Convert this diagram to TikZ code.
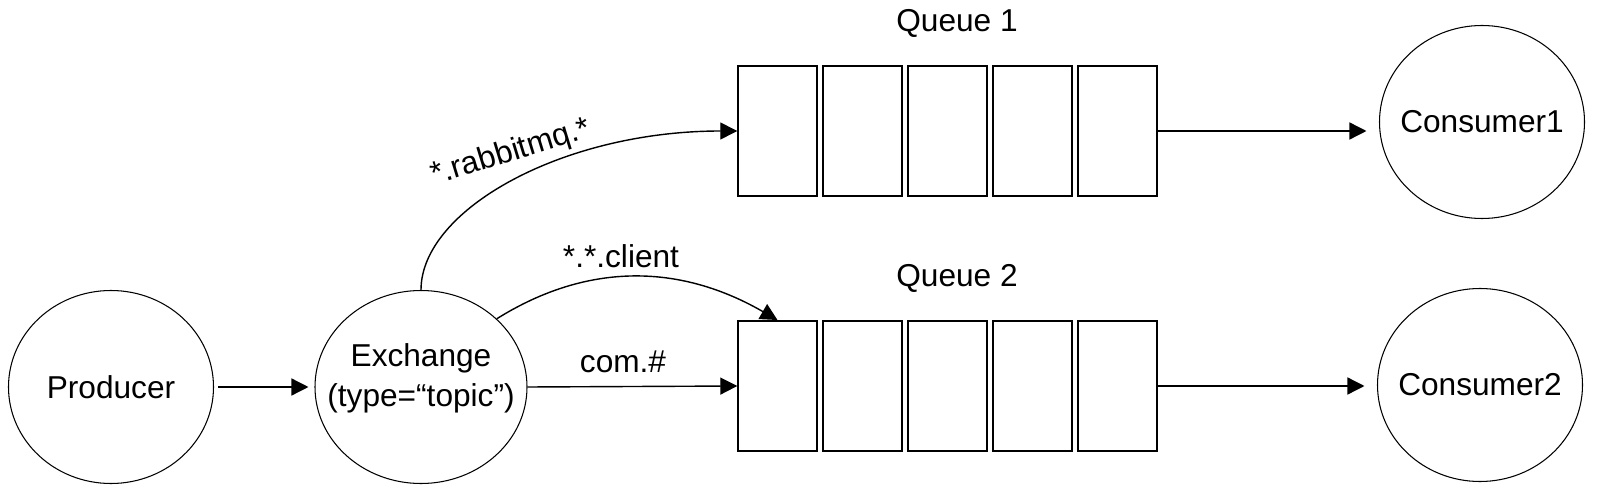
\documentclass[tikz,border=0pt]{standalone}
\usepackage{fontspec}
\setmainfont{Liberation Sans}
\usetikzlibrary{shapes.geometric, arrows.meta, positioning}

\begin{document}
\begin{tikzpicture}[x=0.2mm, y=0.2mm,
        font=\fontsize{18}{22.7}\selectfont,
        actor/.style={draw, ellipse, line width=0.6pt, minimum width=4.1cm, minimum height=3.86cm, inner sep=0pt},
        slot/.style={draw, line width=1.1pt, minimum width=1.57cm, minimum height=2.6cm, inner sep=0pt},
        flow/.style={line width=0.8pt, -{Triangle[length=3.4mm, width=3.4mm]}}]
            \useasboundingbox (0,0) rectangle (1598,494);
            % Producer and exchange
            \node[actor, label={center:Producer}] (prod) at (111,107) {};
            \node[actor, minimum width=4.24cm, label={[align=center, yshift=0.18cm]center:Exchange\\(type=“topic”)}] (exch) at (421,107) {};
            % Queues
            \foreach \i in {1,...,5} {
                \node[slot] (qa\i) at ({777.5+85*(\i-1)},363) {};
                \node[slot] (qb\i) at ({777.5+85*(\i-1)},108) {};
            }
            \node (qalabel) at (957,471) {Queue 1};
            \node (qblabel) at (957,216) {Queue 2};
            % Consumers
            \node[actor, label={center:Consumer1}] (cons1) at (1482,372) {};
            \node[actor, label={center:Consumer2}] (cons2) at (1480,109) {};
            % Bindings
            \draw[flow, shorten <=0.08cm, shorten >=0.12cm] (prod.east) -- (exch.west);
            \draw[flow] (exch.north) to[out=90, in=180, out distance=1.6cm, in distance=3.5cm] (qa1.west);
            \draw[flow] (exch.42) to[out=32, in=150] (qb1.north);
            \draw[flow] (exch.east) -- (qb1.west);
            \node[rotate=17] (rkey) at (511,341) {*.rabbitmq.*};
            \node (ckey) at (621,238) {*.*.client};
            \node (hkey) at (623,132) {com.\#};
            % Deliveries
            \draw[flow, shorten >=0.25cm] (qa5.east) -- (qa5.east -| cons1.west);
            \draw[flow, shorten >=0.25cm] (qb5.east) -- (qb5.east -| cons2.west);
        \end{tikzpicture}
\end{document}
